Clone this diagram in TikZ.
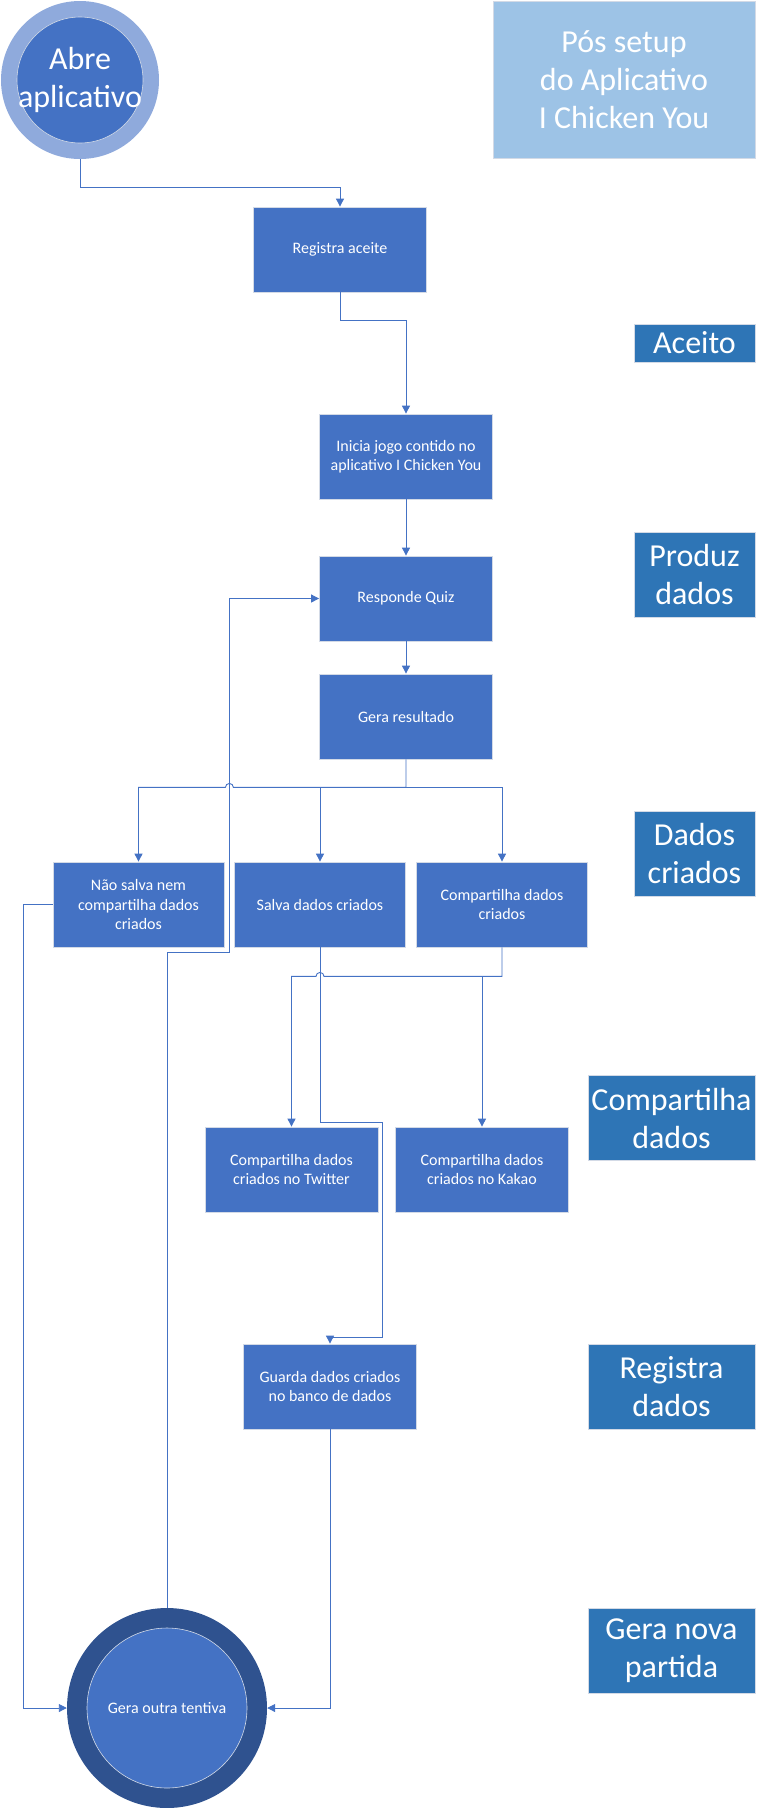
\documentclass[tikz,border=0pt]{standalone}
\usepackage{fontspec}
\setmainfont{Carlito}
\usetikzlibrary{arrows.meta,calc}
\definecolor{boxblue}{HTML}{4472C4}
\definecolor{tagblue}{HTML}{2E75B6}
\definecolor{paleblue}{HTML}{9DC3E6}
\definecolor{ringlight}{HTML}{8FAADC}
\definecolor{ringdark}{HTML}{2F528F}
\definecolor{edgegray}{HTML}{D3DAE6}

\begin{document}
\begin{tikzpicture}
[
    x = 1pt, y = -1pt,
    every node/.style = {text = white, align = center, inner sep = 0pt},
    stepbox/.style = {rectangle, fill = boxblue, draw = edgegray, line width = 0.8pt,
        minimum width = 173pt, minimum height = 85pt, font = \fontsize{16}{19.2}\selectfont},
    tag/.style = {rectangle, fill = tagblue, draw = edgegray, line width = 0.8pt,
        minimum height = 85pt, font = \fontsize{32}{38}\selectfont},
    bigtext/.style = {font = \fontsize{32}{38}\selectfont},
    smalltext/.style = {font = \fontsize{16}{19.2}\selectfont},
    ringin/.style = {circle, fill = boxblue, draw = edgegray, line width = 0.6pt},
    flow/.style = {draw = boxblue, line width = 0.9pt, -{Triangle[length = 8pt, width = 8pt]}},
]
\useasboundingbox (0,0) rectangle (767,1808);

\node[circle, fill = ringlight, minimum size = 158pt] (abre) at (80,80) {};
\node[ringin, minimum size = 126pt, label = {[bigtext]center:Abre\\aplicativo}] (abrein) at (abre) {};

\node[tag, fill = paleblue, minimum width = 262pt, minimum height = 157pt] (pos) at (624,79.5) {Pós setup\\do Aplicativo\\I Chicken You};
\node[tag, minimum width = 121pt, minimum height = 38pt] (aceito) at (694.5,343) {Aceito};
\node[tag, minimum width = 121pt] (produz) at (694.5,574.5) {Produz\\dados};
\node[tag, minimum width = 121pt] (criados) at (694.5,853.5) {Dados\\criados};
\node[tag, minimum width = 167pt] (compdados) at (671.5,1118) {Compartilha\\dados};
\node[tag, minimum width = 167pt] (regdados) at (671.5,1386.5) {Registra\\dados};
\node[tag, minimum width = 167pt] (novapartida) at (671.5,1651) {Gera nova\\partida};

\node[stepbox] (registra) at (340,249.5) {Registra aceite};
\node[stepbox] (inicia) at (406,456.5) {Inicia jogo contido no\\aplicativo I Chicken You};
\node[stepbox] (responde) at (406,598.5) {Responde Quiz};
\node[stepbox] (resultado) at (406,716.5) {Gera resultado};
\node[stepbox, minimum width = 171pt] (naosalva) at (138.5,904.5) {Não salva nem\\compartilha dados\\criados};
\node[stepbox, minimum width = 171pt] (salva) at (320,904.5) {Salva dados criados};
\node[stepbox, minimum width = 171pt] (compart) at (502,904.5) {Compartilha dados\\criados};
\node[stepbox] (twitter) at (291.5,1169.5) {Compartilha dados\\criados no Twitter};
\node[stepbox] (kakao) at (482,1169.5) {Compartilha dados\\criados no Kakao};
\node[stepbox] (guarda) at (330,1386.5) {Guarda dados criados\\no banco de dados};

\node[circle, fill = ringdark, minimum size = 200pt] (outra) at (167,1708) {};
\node[ringin, minimum size = 160pt, label = {[smalltext]center:Gera outra tentiva}] (outrain) at (outra) {};

\coordinate (busG) at ($(resultado.south)+(0,28)$);
\coordinate (busC) at ($(compart.south)+(0,29)$);
\coordinate (loop) at ($(naosalva.south east)+(5,5)$);

\draw[flow] (abre.south) -- ++(0,28) -| (registra.north);
\draw[flow] (registra.south) -- ++(0,28) -| (inicia.north);
\draw[flow] (inicia) -- (responde);
\draw[flow] (responde) -- (resultado);
\draw[flow] (resultado.south) -- (busG) -- ($(loop |- busG)+(4,0)$)
    arc[start angle = 0, end angle = -180, radius = 4] -| (naosalva.north);
\draw[flow] (busG) -| (compart.north);
\draw[flow] (salva.north |- busG) -- (salva.north);
\draw[flow] (naosalva.west) -- ++(-29,0) |- (outra.west);
\draw[flow] (outra.north) |- (loop) |- (responde.west);
\draw[flow] (compart.south) -- (busC) -- ($(salva.south |- busC)+(4,0)$)
    arc[start angle = 0, end angle = -180, radius = 4] -| (twitter.north);
\draw[flow] (kakao.north |- busC) -- (kakao.north);
\draw[flow] (salva.south) -- ++(0,175) -- ++(62,0) -- ++(0,215) -| (guarda.north);
\draw[flow] (guarda.south) |- (outra.east);
\end{tikzpicture}
\end{document}
